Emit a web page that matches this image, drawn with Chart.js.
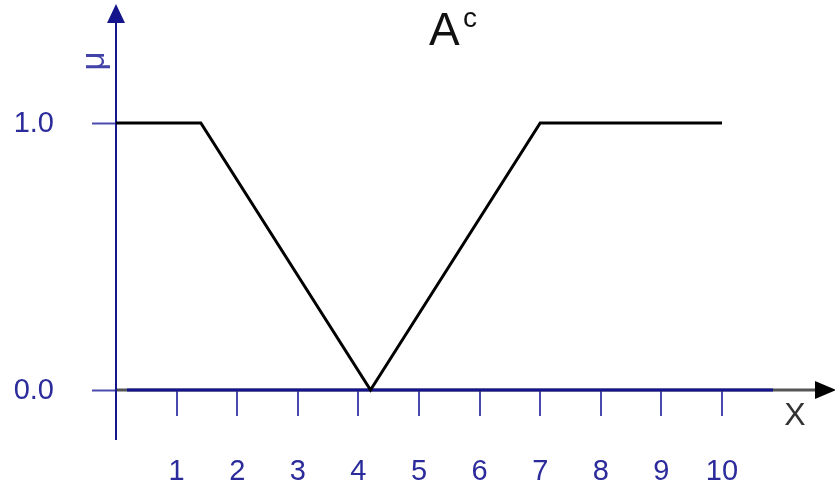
<!DOCTYPE html>
<html>
<head>
<meta charset="utf-8">
<script src="https://cdn.jsdelivr.net/npm/chart.js@4"></script>
<style>
  html, body { margin: 0; padding: 0; background: #fff; }
  #wrap { width: 835px; height: 485px; }
</style>
</head>
<body>
<div id="wrap"><canvas id="fuzzyChart" width="835" height="485"></canvas></div>
<script>
// complement of fuzzy set A
var xVals = [0, 1.4, 4.2, 7, 10];
var muVals = [1, 1, 0, 1, 1];
var xTicks = [1, 2, 3, 4, 5, 6, 7, 8, 9, 10];
var yTicks = [0.0, 1.0];
var titleMain = 'A';
var titleSup = 'c';

var axisBlue = '#14148c';
var tickBlue = '#4a4aae';
var labelBlue = '#2b2b9b';

var points = [];
for (let i = 0; i < xVals.length; i++) {
  points.push({ x: xVals[i], y: muVals[i] });
}

var axesPlugin = {
  id: 'fuzzyAxes',
  beforeDatasetsDraw: function(chart) {
    var ctx = chart.ctx;
    var xs = chart.scales.x;
    var ys = chart.scales.y;
    var x0 = xs.getPixelForValue(0);
    var y0 = ys.getPixelForValue(0);

    ctx.save();
    ctx.lineCap = 'butt';

    // y ticks (left side)
    ctx.strokeStyle = tickBlue;
    ctx.lineWidth = 2;
    yTicks.forEach(function(v) {
      var py = Math.round(ys.getPixelForValue(v)) + 0.5;
      ctx.beginPath();
      ctx.moveTo(92, py);
      ctx.lineTo(x0, py);
      ctx.stroke();
    });

    // x ticks (below axis)
    xTicks.forEach(function(v) {
      var px = Math.round(xs.getPixelForValue(v));
      ctx.beginPath();
      ctx.moveTo(px, y0);
      ctx.lineTo(px, y0 + 26);
      ctx.stroke();
    });

    // x axis: dark part with arrow, blue part on top
    ctx.strokeStyle = '#555';
    ctx.lineWidth = 3;
    ctx.beginPath();
    ctx.moveTo(x0, y0);
    ctx.lineTo(818, y0);
    ctx.stroke();
    ctx.fillStyle = '#000';
    ctx.beginPath();
    ctx.moveTo(815, y0 - 9);
    ctx.lineTo(836, y0);
    ctx.lineTo(815, y0 + 9);
    ctx.closePath();
    ctx.fill();

    ctx.strokeStyle = axisBlue;
    ctx.beginPath();
    ctx.moveTo(x0 + 11, y0);
    ctx.lineTo(773, y0);
    ctx.stroke();

    // y axis with arrow
    ctx.lineWidth = 2;
    ctx.beginPath();
    ctx.moveTo(x0, 440);
    ctx.lineTo(x0, 18);
    ctx.stroke();
    ctx.fillStyle = axisBlue;
    ctx.beginPath();
    ctx.moveTo(x0 - 9, 23);
    ctx.lineTo(x0, 4);
    ctx.lineTo(x0 + 9, 23);
    ctx.closePath();
    ctx.fill();

    // tick labels
    ctx.fillStyle = labelBlue;
    ctx.font = '29px "Liberation Sans", Arial, sans-serif';
    ctx.textBaseline = 'middle';
    ctx.textAlign = 'right';
    yTicks.forEach(function(v) {
      ctx.fillText(v.toFixed(1), 54, ys.getPixelForValue(v) + 1);
    });
    ctx.textAlign = 'center';
    ctx.textBaseline = 'alphabetic';
    xTicks.forEach(function(v) {
      ctx.fillText(String(v), xs.getPixelForValue(v), 480);
    });

    // mu label, rotated
    ctx.save();
    ctx.translate(95, 61);
    ctx.rotate(-Math.PI / 2);
    ctx.font = '33px "Liberation Sans", Arial, sans-serif';
    ctx.textAlign = 'center';
    ctx.textBaseline = 'middle';
    ctx.fillStyle = '#4242a8';
    ctx.fillText('\u03bc', 0, 0);
    ctx.restore();

    // x label
    ctx.fillStyle = '#333';
    ctx.font = '32px "Liberation Sans", Arial, sans-serif';
    ctx.textAlign = 'center';
    ctx.fillText('X', 795, 425);

    // title with superscript
    ctx.fillStyle = '#111';
    ctx.textAlign = 'left';
    ctx.font = '46px "Liberation Sans", Arial, sans-serif';
    ctx.fillText(titleMain, 429, 45);
    ctx.font = '28px "Liberation Sans", Arial, sans-serif';
    ctx.fillText(titleSup, 463, 27);

    ctx.restore();
  }
};

var ctx = document.getElementById('fuzzyChart').getContext('2d');
var myChart = new Chart(ctx, {
  type: 'line',
  data: {
    datasets: [{
      label: 'A^c',
      data: points,
      borderColor: '#000',
      borderWidth: 3,
      pointRadius: 0,
      tension: 0,
      fill: false,
      clip: false
    }]
  },
  options: {
    responsive: false,
    animation: false,
    layout: { padding: { left: 116, right: 113, top: 123, bottom: 95 } },
    plugins: { legend: { display: false }, tooltip: { enabled: false } },
    scales: {
      x: { type: 'linear', min: 0, max: 10, display: false },
      y: { type: 'linear', min: 0, max: 1, display: false }
    }
  },
  plugins: [axesPlugin]
});
</script>
</body>
</html>
